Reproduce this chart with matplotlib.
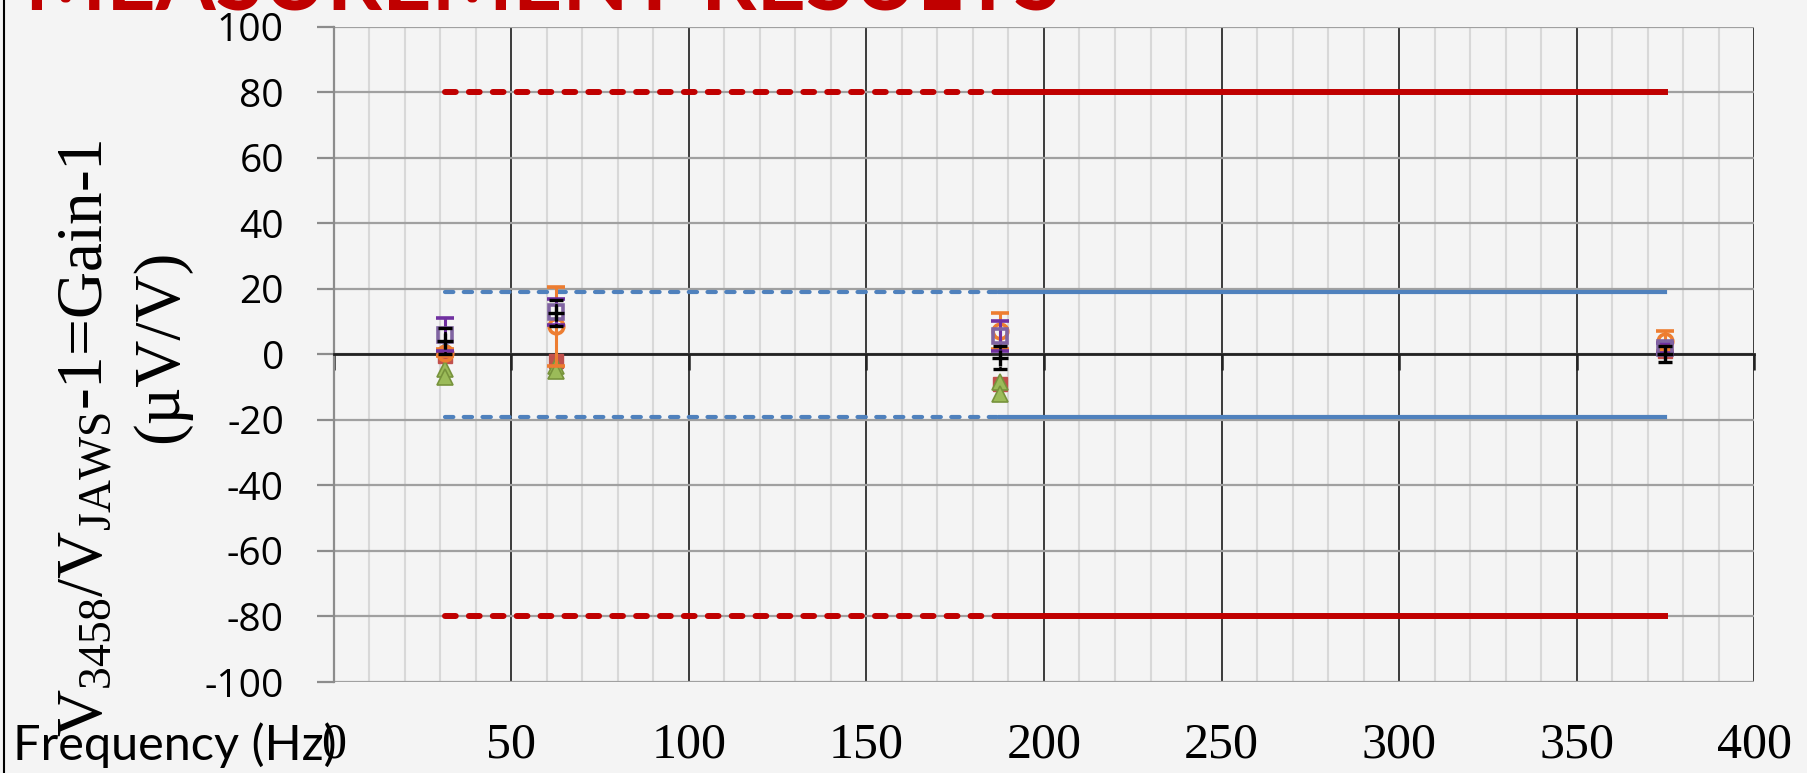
import matplotlib
matplotlib.use("Agg")
import matplotlib.pyplot as plt
import matplotlib.transforms as mtransforms
from matplotlib.lines import Line2D
from matplotlib.ticker import MultipleLocator
import numpy as np

plt.rcParams["axes.unicode_minus"] = False
plt.rcParams["mathtext.fontset"] = "custom"
plt.rcParams["mathtext.rm"] = "Liberation Serif"
plt.rcParams["mathtext.it"] = "Liberation Serif:italic"

# measurement frequencies (Hz)
freq = [31.25, 62.5, 187.5, 375]

# acceptance limits (uV/V), dashed below the split frequency, solid above
outer_limit = 80
inner_limit = 19
split_freq = 187.5

# gain deviation per run, uV/V
blue_vals = [1.5, -4.0, -10.0, 1.5]
red_vals = [-0.5, -2.0, -9.0, 1.0]
green_a_vals = [-4.5, -3.5, -8.5, np.nan]
green_b_vals = [-7.0, -5.0, -12.0, np.nan]
orange_vals = [0.5, 8.5, 7.0, 4.0]
orange_err = [1.0, 12.0, 5.5, 3.0]
purple_vals = [6.0, 13.0, 5.5, 2.0]
purple_err = [5.0, 4.0, 4.5, 1.5]
black_vals = [4.0, 12.5, -1.0, 0.0]
black_err = [4.0, 4.0, 3.5, 2.5]

x_ticks = [0, 50, 100, 150, 200, 250, 300, 350, 400]
y_ticks = [-100, -80, -60, -40, -20, 0, 20, 40, 60, 80, 100]

bg = "#f4f4f4"
fig = plt.figure(figsize=(18.07, 7.73), dpi=100, facecolor=bg)
ax = fig.add_axes([0.1848, 0.1177, 0.7859, 0.8480])
ax.set_facecolor("none")
ax.set_xlim(0, 400)
ax.set_ylim(-100, 100)

# grid: light minor verticals every 10 Hz, dark majors every 50 Hz
ax.xaxis.set_major_locator(MultipleLocator(50))
ax.xaxis.set_minor_locator(MultipleLocator(10))
ax.set_yticks(y_ticks)
ax.grid(which="minor", axis="x", color="#d8d8d8", lw=1.5, zorder=0)
ax.grid(which="major", axis="x", color="#3a3a3a", lw=1.4, zorder=0)
ax.grid(which="major", axis="y", color="#a0a0a0", lw=1.6, zorder=0)
ax.set_axisbelow(True)

for side in ("top", "right"):
    ax.spines[side].set_visible(False)
ax.spines["left"].set_color("#8c8c8c")
ax.spines["left"].set_linewidth(1.6)
ax.spines["bottom"].set_position(("data", 0))
ax.spines["bottom"].set_color("#222222")
ax.spines["bottom"].set_linewidth(2.0)

ax.tick_params(axis="x", which="major", direction="out", length=11.5, width=1.8,
               color="#222222", labelbottom=False)
ax.tick_params(axis="x", which="minor", length=0)
ax.tick_params(axis="y", direction="out", length=12, width=1.6, color="#8c8c8c",
               pad=24, labelsize=28)
ax.set_yticklabels([str(v) for v in y_ticks], fontfamily="Open Sans")

# x tick labels sit at the bottom of the slide, below the chart
trans = mtransforms.blended_transform_factory(ax.transData, fig.transFigure)
for t in x_ticks:
    ax.text(t, 0.036, str(t), transform=trans, ha="center", va="center",
            fontfamily="Liberation Serif", fontsize=36, clip_on=False)
fig.text(0.007, 0.036, "Frequency (Hz)", ha="left", va="center",
         fontfamily="Lato", fontsize=35)

# limit lines
lo = [freq[0], split_freq]
hi = [split_freq, freq[-1]]
for sign in (1, -1):
    ax.plot(lo, [sign * outer_limit] * 2, color="#c00000", lw=4.3,
            ls=(0, (1.8, 2.2)), dash_capstyle="round", zorder=3)
    ax.plot(hi, [sign * outer_limit] * 2, color="#c00000", lw=4.3, zorder=3)
    ax.plot(lo, [sign * inner_limit] * 2, color="#4f81bd", lw=3.0,
            ls=(0, (2.0, 2.5)), dash_capstyle="round", zorder=3)
    ax.plot(hi, [sign * inner_limit] * 2, color="#4f81bd", lw=3.0, zorder=3)

# measurement points
ax.plot(freq, blue_vals, ls="none", marker="D", ms=7, color="#4f81bd", zorder=4)
ax.plot(freq, red_vals, ls="none", marker="s", ms=10.5, color="#c0504d", zorder=5)
ax.plot(freq, green_a_vals, ls="none", marker="^", ms=12, color="#9bbb59",
        mec="#77933c", mew=1.2, zorder=6)
ax.plot(freq, green_b_vals, ls="none", marker="^", ms=12, color="#9bbb59",
        mec="#77933c", mew=1.2, zorder=6)
ax.errorbar(freq, orange_vals, yerr=orange_err, ls="none", marker="o", ms=10.5,
            mfc="none", mec="#ed7d31", mew=2.6, ecolor="#ed7d31", elinewidth=2.2,
            capsize=6.5, capthick=2.2, zorder=7)
ax.errorbar(freq, purple_vals, yerr=purple_err, ls="none", marker="s", ms=10.5,
            mfc="none", mec="#8064a2", mew=2.6, ecolor="#7030a0", elinewidth=2.2,
            capsize=6.5, capthick=2.2, zorder=8)
eb = ax.errorbar(freq, black_vals, yerr=black_err, ls="none", marker="+", ms=11,
                 mew=2.4, color="black", ecolor="black", elinewidth=1.8,
                 capsize=5, capthick=1.8, zorder=9)
eb[2][0].set_linestyle((0, (1, 1)))

# y axis title, two rotated lines
fig.text(0.0565, 0.433, r"$\mathrm{V_{3458}/V_{JAWS}}$-1=Gain-1", rotation=90,
         rotation_mode="anchor", ha="center", va="baseline",
         fontfamily="Liberation Serif", fontsize=47)
fig.text(0.098, 0.552, "(\u00b5V/V)", rotation=90, rotation_mode="anchor",
         ha="center", va="baseline", fontfamily="Liberation Serif", fontsize=47)

# slide heading, cut off by the top edge
fig.text(0.014, 0.987, "MEASUREMENT RESULTS", ha="left", va="baseline",
         fontfamily="Lato", fontweight="bold", fontsize=62, color="#c00000")

# slide frame on the left
fig.add_artist(Line2D([0.0022, 0.0022], [0, 1], transform=fig.transFigure,
                      color="black", lw=1.5))

fig.savefig("out.png", dpi=100, facecolor=bg)
